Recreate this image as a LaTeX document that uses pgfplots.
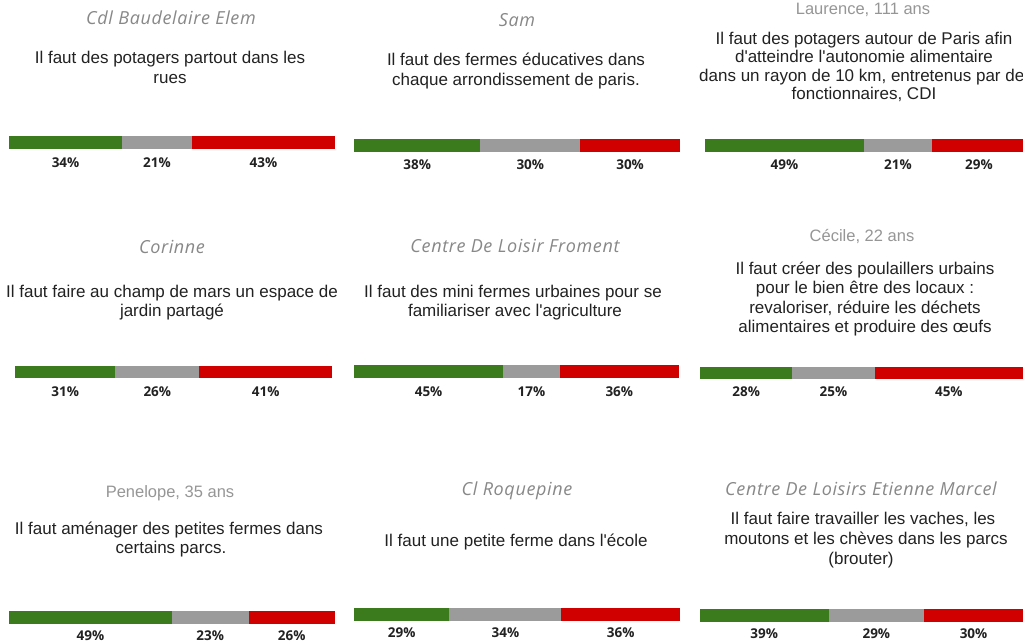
\documentclass[border=0pt]{standalone}
\usepackage{pgfplots}
\pgfplotsset{compat=1.18}
\usepackage{fontspec}
\setmainfont{Liberation Sans}[Ligatures=TeXOff]
\newfontfamily\osans{Open Sans}
\newfontfamily\osansls{Open Sans}[LetterSpace=3.5]
\definecolor{cgreen}{RGB}{60,122,30}
\definecolor{cgray}{RGB}{155,155,155}
\definecolor{cred}{RGB}{208,0,0}
\definecolor{ctext}{RGB}{34,34,34}
\definecolor{ctitle}{RGB}{136,136,136}
\definecolor{ctitleb}{RGB}{150,150,150}

\tikzset{
  stmt/.style={anchor=base, text=ctext, inner sep=0pt, font=\fontsize{17}{20}\selectfont},
  titi/.style={anchor=base, text=ctitle, inner sep=0pt, font=\osansls\itshape\fontsize{18}{20}\selectfont},
  titn/.style={anchor=base, text=ctitleb, inner sep=0pt, font=\fontsize{16.5}{19}\selectfont},
  lab/.style={anchor=base, text=ctext, inner sep=0pt, font=\osans\bfseries\fontsize{13.5}{15}\selectfont},
}

% #1 x0, #2 top (px from top), #3 length, #4 thickness, #5 #6 #7 values, #8 label baseline drop
\newcommand{\bars}[8]{%
  \pgfmathsetmacro\ay{643-#2}%
  \begin{axis}[at={(#1pt,\ay pt)}, anchor=north west, width=#3pt, height=#4pt,
    scale only axis, hide axis, xbar stacked, bar width=#4pt,
    xmin=0, xmax={#5+#6+#7}, ymin=-0.5, ymax=0.5, clip=false, enlargelimits=false]
    \addplot[fill=cgreen, draw=none] coordinates {(#5,0)};
    \addplot[fill=cgray, draw=none] coordinates {(#6,0)};
    \addplot[fill=cred, draw=none] coordinates {(#7,0)};
    \node[lab] at (axis cs:{#5/2},0.5) [yshift=-#8pt] {#5\%};
    \node[lab] at (axis cs:{#5+#6/2},0.5) [yshift=-#8pt] {#6\%};
    \node[lab] at (axis cs:{#5+#6+#7/2},0.5) [yshift=-#8pt] {#7\%};
  \end{axis}}

\begin{document}
\begin{tikzpicture}[x=1pt,y=1pt]
\path[use as bounding box, fill=white] (0,0) rectangle (1023,643);
\clip (0,0) rectangle (1023,643);

% Row 1
\node[titi] at (171,{643-25}) {Cdl Baudelaire Elem};
\node[stmt] at (170,{643-64}) {Il faut des potagers partout dans les};
\node[stmt] at (170,{643-84}) {rues};
\bars{9}{136}{326}{13}{34}{21}{43}{32}

\node[titi] at (517,{643-27}) {Sam};
\node[stmt] at (516,{643-66}) {Il faut des fermes éducatives dans};
\node[stmt] at (516,{643-86}) {chaque arrondissement de paris.};
\bars{354}{139}{326}{13}{38}{30}{30}{31}

\node[titn] at (863,{643-15}) {Laurence, 111 ans};
\node[stmt] at (864,{643-45}) {Il faut des potagers autour de Paris afin};
\node[stmt] at (864,{643-63}) {d'atteindre l'autonomie alimentaire};
\node[stmt] at (866,{643-82}) {dans un rayon de 10 km, entretenus par des};
\node[stmt] at (864,{643-100}) {fonctionnaires, CDI};
\bars{705}{139}{321}{13}{49}{21}{29}{31}

% Row 2
\node[titi] at (172,{643-254}) {Corinne};
\node[stmt] at (172,{643-298}) {Il faut faire au champ de mars un espace de};
\node[stmt] at (172,{643-317}) {jardin partagé};
\bars{15}{366}{317}{12.5}{31}{26}{41}{31}

\node[titi] at (515,{643-253}) {Centre De Loisir Froment};
\node[stmt] at (513,{643-298}) {Il faut des mini fermes urbaines pour se};
\node[stmt] at (515,{643-317}) {familiariser avec l'agriculture};
\bars{354}{365}{325}{13}{45}{17}{36}{32}

\node[titn] at (862,{643-242}) {Cécile, 22 ans};
\node[stmt] at (865,{643-275}) {Il faut créer des poulaillers urbains};
\node[stmt] at (865,{643-294}) {pour le bien être des locaux :};
\node[stmt] at (865,{643-314}) {revaloriser, réduire les déchets};
\node[stmt] at (865,{643-333}) {alimentaires et produire des œufs};
\bars{700}{367}{323}{12.5}{28}{25}{45}{30}

% Row 3
\node[titn] at (170,{643-498}) {Penelope, 35 ans};
\node[stmt] at (169,{643-534}) {Il faut aménager des petites fermes dans};
\node[stmt] at (171,{643-554}) {certains parcs.};
\bars{9}{611}{326}{13}{49}{23}{26}{29}

\node[titi] at (517,{643-496}) {Cl Roquepine};
\node[stmt] at (516,{643-547}) {Il faut une petite ferme dans l'école};
\bars{354}{608}{326}{13}{29}{34}{36}{29}

\node[titi] at (861,{643-496}) {Centre De Loisirs Etienne Marcel};
\node[stmt] at (863,{643-525}) {Il faut faire travailler les vaches, les};
\node[stmt] at (866,{643-544}) {moutons et les chèves dans les parcs};
\node[stmt] at (861,{643-564}) {(brouter)};
\bars{700}{609}{323}{13}{39}{29}{30}{29}
\end{tikzpicture}
\end{document}
